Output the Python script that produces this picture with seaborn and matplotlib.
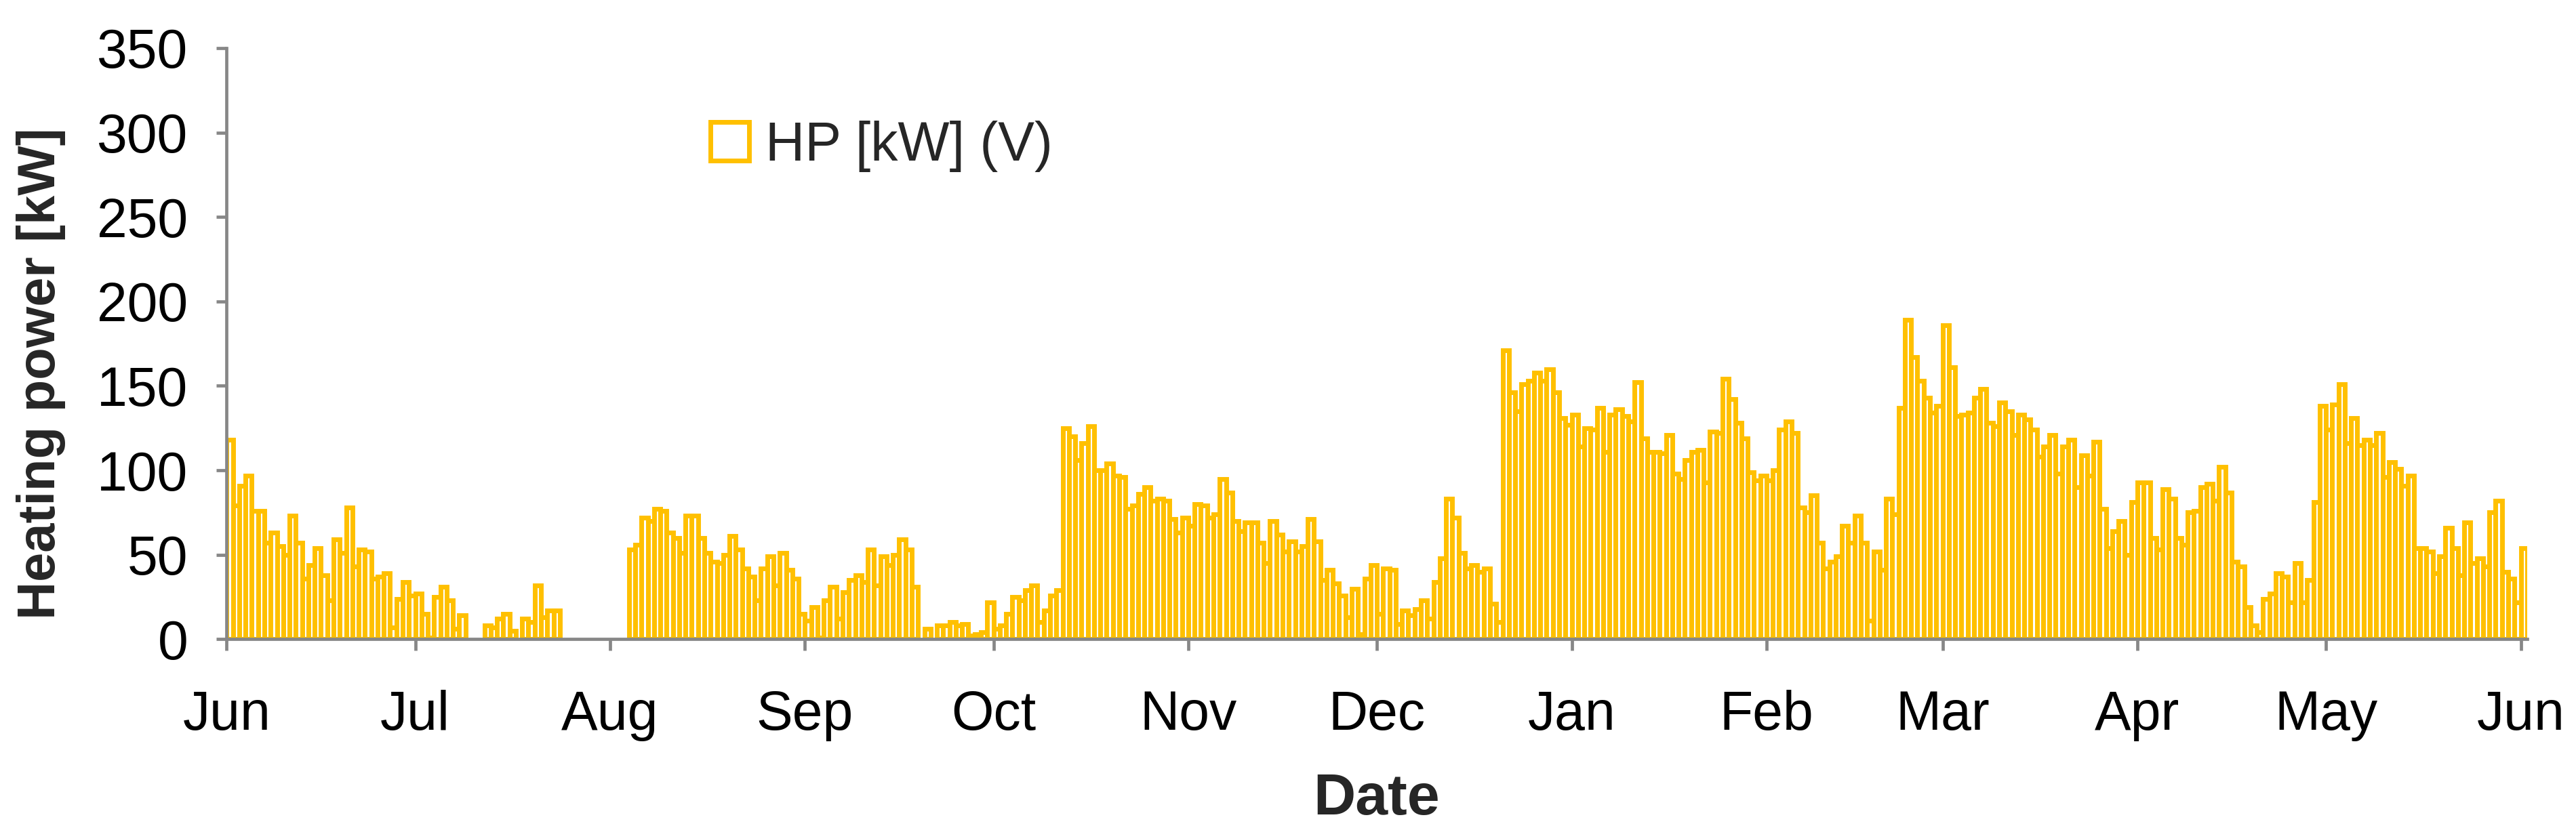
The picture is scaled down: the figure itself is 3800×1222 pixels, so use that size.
import numpy as np
import pandas as pd
import matplotlib.pyplot as plt
import seaborn as sns

# daily heating power of the heat pump [kW], one list per month (None = no data)
jun = [118, 79, 91, 97, 76, 76, 57, 63, 55, 50, 73, 57, 36, 44, 54,
       38, 23, 59, 51, 78, 43, 53, 52, 36, 37, 39, 7, 24, 34, 26]
jul = [27, 15, 1, 25, 31, 23, 6, 14, None, None, None, 8, 7, 12, 15, 5,
       None, 12, 10, 32, 13, 17, 17, None, None, None, None, None, None, None, None]
aug = [None, None, None, 53, 56, 72, 70, 77, 76, 63, 60, 51, 73, 73, 60, 51,
       46, 45, 50, 61, 53, 42, 37, 23, 42, 49, 32, 51, 41, 36, 15]
sep = [11, 19, 1, 23, 31, 12, 28, 35, 38, 34, 53, 32, 49, 44, 50,
       59, 53, 31, None, 6, None, 8, 8, 10, 8, 9, 2, 3, 4, 22]
oct_ = [6, 8, 15, 25, 23, 29, 32, 10, 17, 26, 29, 125, 120, 106, 116, 126,
        100, 100, 104, 97, 96, 77, 79, 86, 90, 82, 83, 82, 71, 63, 72]
nov = [67, 80, 79, 72, 74, 95, 87, 70, 64, 69, 69, 57, 45, 70, 62,
       52, 58, 52, 55, 71, 58, 35, 41, 33, 26, 13, 30, 3, 36, 44]
dec = [15, 42, 41, 9, 17, 14, 18, 23, 12, 34, 48, 83, 72, 51, 42, 44,
       40, 42, 21, 10, 171, 146, 135, 151, 153, 158, 153, 160, 146, 131, 127]
jan = [133, 114, 125, 124, 137, 111, 133, 136, 132, 129, 152, 119, 111, 111, 110, 121,
       98, 95, 106, 111, 112, 93, 123, 122, 154, 142, 128, 119, 99, 94, 97]
feb = [94, 100, 124, 129, 122, 78, 75, 85, 57, 42, 46, 49, 67, 57,
       73, 57, 11, 52, 41, 83, 74, 137, 189, 167, 153, 143, 134, 138]
mar = [186, 161, 132, 133, 134, 143, 148, 128, 126, 140, 135, 121, 133, 130, 124, 108,
       114, 121, 98, 114, 118, 90, 109, 97, 117, 77, 54, 64, 70, 50, 81]
apr = [93, 93, 60, 53, 89, 83, 60, 56, 75, 76, 90, 92, 82, 102, 87,
       46, 43, 19, 8, 4, 24, 27, 39, 37, 22, 45, 22, 35, 81, 138]
may = [124, 139, 151, 116, 131, 115, 118, 115, 122, 96, 105, 101, 91, 97, 54, 54,
       52, 39, 49, 66, 54, 38, 69, 45, 48, 43, 75, 82, 40, 36, 22]
jun_next = [54]

month_labels = ['Jun', 'Jul', 'Aug', 'Sep', 'Oct', 'Nov', 'Dec',
                'Jan', 'Feb', 'Mar', 'Apr', 'May', 'Jun']
y_ticks = [0, 50, 100, 150, 200, 250, 300, 350]

YELLOW = '#FFC000'
AXIS_GREY = '#878787'

if __name__ == "__main__":
    start = pd.Timestamp('2012-06-01')
    values = jun + jul + aug + sep + oct_ + nov + dec + jan + feb + mar + apr + may + jun_next
    dates = pd.date_range(start, periods=len(values), freq='D')

    df = pd.DataFrame({'date': dates, 'hp': pd.to_numeric(pd.Series(values), errors='coerce')})
    df = df.dropna()
    # bar spans the whole day: [day, day + 1]
    df['day'] = (df['date'] - start).dt.days + 0.5

    month_starts = pd.date_range(start, dates[-1], freq='MS')
    tick_pos = (month_starts - start).days

    sns.set_theme(style='white')
    plt.rcParams['font.family'] = ['Liberation Sans', 'DejaVu Sans']

    fig, ax = plt.subplots(figsize=(38, 12.22), dpi=100)
    fig.subplots_adjust(left=0.088, right=0.981, bottom=0.228, top=0.942)

    sns.barplot(data=df, x='day', y='hp', native_scale=True, width=1,
                color='white', saturation=1, edgecolor=YELLOW, linewidth=5,
                errorbar=None, ax=ax, label='HP [kW] (V)')

    ax.set_xlim(0, len(values))
    ax.set_ylim(0, 350)
    ax.set_xticks(tick_pos)
    ax.set_xticklabels(month_labels)
    ax.set_yticks(y_ticks)

    for side in ['top', 'right']:
        ax.spines[side].set_visible(False)
    for side in ['left', 'bottom']:
        ax.spines[side].set_color(AXIS_GREY)
        ax.spines[side].set_linewidth(3.4)
    ax.spines['bottom'].set_zorder(5)

    ax.tick_params(axis='both', which='major', direction='out', colors=AXIS_GREY,
                   width=3.4, labelsize=58, labelcolor='black')
    ax.tick_params(axis='x', bottom=True, length=12, pad=42)
    ax.tick_params(axis='y', left=True, length=11, pad=30)

    ax.set_xlabel('Date', fontsize=62, fontweight='bold')
    ax.set_ylabel('Heating power [kW]', fontsize=56, fontweight='bold')
    ax.xaxis.set_label_coords(0.5, -0.225)
    ax.yaxis.set_label_coords(-0.07, 0.45)

    ax.legend(loc='center left', bbox_to_anchor=(0.189, 0.834), frameon=False,
              fontsize=58, handlelength=0.7, handleheight=0.7, handletextpad=0.3)

    plt.savefig('out.png', dpi=100)
